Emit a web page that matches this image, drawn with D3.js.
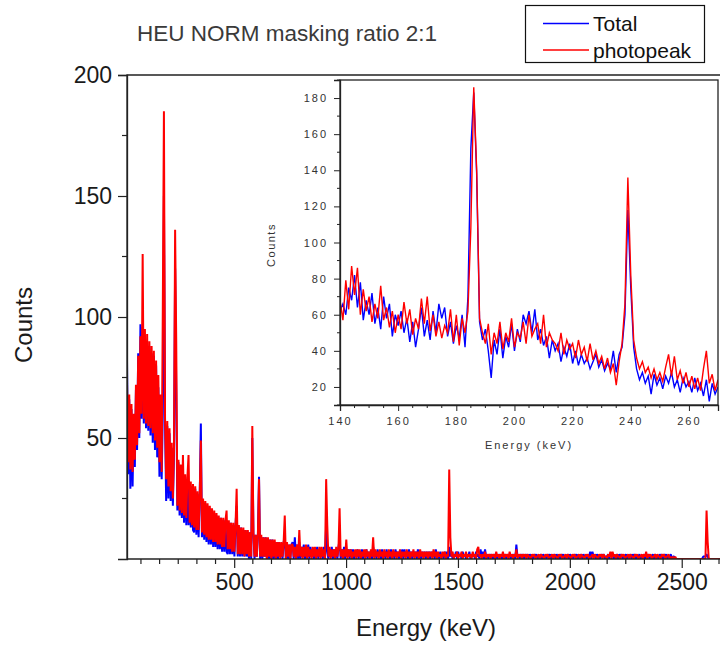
<!DOCTYPE html>
<html><head><meta charset="utf-8">
<script src="https://cdn.jsdelivr.net/npm/d3@7/dist/d3.min.js"></script>
<style>html,body{margin:0;padding:0;background:#fff;}svg{display:block;font-family:"Liberation Sans",Arial,sans-serif;}</style>
</head><body>
<svg id="chart" width="720" height="649"></svg>
<script>
// ---------- DATA ----------
const title = "HEU NORM masking ratio 2:1";
const seriesNames = ["Total", "photopeak"];
const mainXTicks = [500, 1000, 1500, 2000, 2500];
const mainYTicks = [50, 100, 150, 200];
const insetXTicks = [140, 160, 180, 200, 220, 240, 260];
const insetYTicks = [20, 40, 60, 80, 100, 120, 140, 160, 180];

// main spectrum: channels every 5 keV starting at 21 keV (rows of 10 = 50 keV)
const mainStart = 21, mainStep = 5;
const mainTotal = [
  82,35,66,29,62,30,58,38,70,45,   // 21
  85,50,97,58,96,56,92,54,90,53,   // 71
  88,51,85,48,84,45,80,42,71,34,   // 121
  66,33,60,150,56,24,55,25,52,24,  // 171
  46,22,43,120,70,20,40,18,37,17,  // 221
  36,15,34,14,33,14,31,13,30,12,   // 271
  11,29,10,27,9,26,56,9,24,8,      // 321
  23,7,22,6,21,6,20,5,19,5,        // 371
  18,4,17,4,17,3,16,3,16,3,        // 421
  2,15,2,15,2,14,1,14,22,1,        // 471
  13,1,13,1,12,1,12,1,11,0,        // 521
  11,0,50,10,0,10,1,10,34,0,       // 571
  9,0,9,1,9,0,8,0,8,0,             // 621
  8,0,7,0,7,0,7,1,6,0,             // 671
  7,9,0,6,0,6,0,6,                 // 721
  7,0,9,1,6,0,7,0,5,1,             // 761
  6,0,5,1,6,0,5,1,4,0,             // 811
  4,1,5,0,4,1,4,0,5,1,             // 861
  14,3,0,4,1,5,0,4,1,4,            // 911
  0,5,8,0,4,1,5,0,4,1,             // 961
  4,0,4,1,4,0,3,1,4,0,             // 1011
  3,1,4,0,3,1,4,0,3,1,             // 1061
  3,0,5,1,3,0,4,1,3,0,             // 1111
  4,1,3,0,4,1,3,0,4,1,             // 1161
  3,0,4,1,3,0,3,1,4,0,             // 1211
  4,1,3,0,4,1,3,0,3,1,             // 1261
  3,0,4,1,3,0,3,1,3,0,             // 1311
  3,1,3,0,3,1,3,0,4,1,             // 1361
  2,0,3,1,2,0,3,1,3,0,             // 1411
  5,1,3,0,2,1,3,0,3,1,             // 1461
  2,0,3,1,2,0,2,1,3,0,             // 1511
  2,1,2,0,3,1,2,0,4,1,             // 1561
  3,0,4,1,2,0,2,1,2,0,             // 1611
  2,1,2,0,2,1,2,0,2,1,             // 1661
  2,0,2,1,2,0,2,1,2,0,             // 1711
  6,1,2,0,2,1,2,0,2,1,             // 1761
  2,0,2,1,1,0,2,1,2,0,             // 1811
  1,1,2,0,2,1,1,0,2,1,             // 1861
  2,0,1,1,2,0,2,1,1,0,             // 1911
  2,1,2,0,1,1,2,0,2,1,             // 1961
  1,0,2,1,2,0,1,1,2,0,             // 2011
  2,1,1,0,2,1,3,0,3,1,             // 2061
  2,0,2,1,1,0,2,1,2,0,             // 2111
  1,1,2,0,2,1,2,0,1,1,             // 2161
  2,0,2,1,2,0,1,1,2,0,             // 2211
  1,1,2,0,2,1,2,0,1,1,             // 2261
  2,0,1,1,2,0,2,1,2,0,             // 2311
  1,1,2,0,2,1,1,0,2,1,             // 2361
  2,0,2,1,2,0,1,1,2,0,             // 2411
  1,1,0,0,0,0,0,0,0,0,             // 2461
  0,0,0,0,0,0,0,0,0,0,             // 2511
  0,0,0,0,0,0,0,1,1,1,             // 2561
  2,1,0,0,0,0,0,0,0,0,             // 2611
  0,0,0,0                          // 2661
];
const mainPhoto = [
  73,40,68,37,64,36,60,41,72,47,   // 21
  84,52,92,60,126,58,95,56,93,55,  // 71
  90,54,88,52,86,49,82,46,76,40,   // 121
  68,36,103,185,58,33,57,30,54,28, // 171
  48,25,45,136,90,22,41,20,39,19,  // 221
  43,18,35,17,34,43,15,32,14,31,   // 271
  13,30,12,28,12,27,49,11,25,10,   // 321
  24,9,23,8,22,8,21,7,20,7,        // 371
  19,6,18,6,17,5,17,5,16,20,       // 421
  4,16,4,15,3,15,3,14,29,2,        // 471
  14,2,13,2,13,1,12,2,12,1,        // 521
  11,1,55,11,1,10,1,10,33,1,       // 571
  10,1,9,1,9,0,9,1,8,0,            // 621
  8,1,8,0,7,1,7,0,7,1,             // 671
  7,18,0,7,1,6,0,6,                // 721
  6,1,5,0,6,1,12,1,5,0,            // 761
  5,1,6,0,5,1,4,0,5,1,             // 811
  5,0,4,1,5,0,5,1,4,0,             // 861
  33,14,1,5,0,4,1,4,0,5,           // 911
  1,4,21,1,4,0,4,1,8,0,            // 961
  4,1,4,0,3,1,4,0,4,1,             // 1011
  4,0,3,1,4,0,4,1,3,0,             // 1061
  4,1,9,0,4,1,3,0,4,1,             // 1111
  3,0,4,1,3,0,4,1,3,0,             // 1161
  4,1,3,0,3,1,4,0,3,1,             // 1211
  3,0,4,1,3,0,3,1,4,0,             // 1261
  3,1,3,0,4,1,3,0,3,1,             // 1311
  3,0,3,1,3,0,4,1,3,0,             // 1361
  3,1,2,0,3,1,3,0,2,1,             // 1411
  37,9,1,3,0,2,1,3,0,2,            // 1461
  1,3,0,2,1,3,0,2,1,2,             // 1511
  0,3,1,2,0,4,5,1,2,0,             // 1561
  2,1,3,0,2,1,2,0,2,1,             // 1611
  2,0,3,1,2,0,2,1,3,0,             // 1661
  2,1,2,0,3,1,2,0,2,1,             // 1711
  4,0,2,1,2,0,2,1,2,0,             // 1761
  2,1,1,0,2,1,2,0,1,1,             // 1811
  2,0,2,1,1,0,2,1,2,0,             // 1861
  1,1,2,0,2,1,1,0,2,1,             // 1911
  2,0,1,1,2,0,2,1,1,0,             // 1961
  2,1,2,0,1,1,2,0,2,1,             // 2011
  1,0,2,1,2,0,1,1,2,0,             // 2061
  2,1,1,0,2,1,2,0,2,1,             // 2111
  1,0,2,1,3,0,3,1,2,0,             // 2161
  2,1,1,0,2,1,2,0,1,1,             // 2211
  2,0,2,1,1,0,2,1,2,0,             // 2261
  1,1,2,0,2,1,3,0,2,1,             // 2311
  2,0,1,1,2,0,2,1,1,0,             // 2361
  2,1,2,0,1,1,2,0,1,0,             // 2411
  1,0,1,0,0,0,0,0,0,0,             // 2461
  0,0,0,0,0,0,0,0,0,0,             // 2511
  0,0,0,0,0,0,0,0,0,0,             // 2561
  20,7,0,0,0,0,0,0,0,0,            // 2611
  0,0,0,0                          // 2661
];

// inset: 140-270 keV, 1 keV channels
const insetStart = 140, insetStep = 1;
const insetTotal = [
  62,66,60,75,68,82,64,78,57,68,
  60,72,55,64,52,70,58,66,48,60,
  54,62,50,58,45,56,42,52,64,48,
  57,46,62,50,66,58,64,48,56,44,
  54,47,60,42,70,152,183,138,56,46,
  52,40,25,46,38,52,36,48,42,55,
  40,52,45,60,55,62,50,63,46,52,
  43,48,36,46,40,44,34,42,37,44,
  33,40,32,38,33,36,30,34,38,31,
  35,29,33,30,40,28,38,42,60,118,
  75,42,30,24,28,22,26,16,27,21,
  25,19,26,22,28,20,24,17,25,20,
  23,17,25,18,22,15,24,12,22,16,
  20
];
const insetPhoto = [
  68,57,79,63,87,71,86,60,74,62,
  70,56,66,58,76,57,64,53,62,50,
  60,52,67,55,63,49,58,52,69,55,
  70,51,60,48,56,47,54,50,63,45,
  60,43,58,50,62,108,186,140,58,50,
  44,55,38,50,44,56,41,50,45,58,
  42,50,47,56,44,60,48,52,55,44,
  60,42,50,46,44,40,50,38,46,41,
  44,36,46,38,42,34,44,35,40,33,
  37,30,36,28,33,21,34,44,66,136,
  82,46,36,30,34,28,31,25,30,24,
  28,23,31,38,26,37,24,29,22,28,
  20,26,19,25,18,30,40,22,27,18,
  24
];

// ---------- DRAW ----------
const svg = d3.select("#chart");
svg.append("rect").attr("width",720).attr("height",649).attr("fill","#fff");
const BLUE = "#0000ff", RED = "#ff0000";

const toPts = (arr, start, step) => arr.map((v,i) => [start + i*step, v]);

// main plot
const M = {l:127, t:75, r:722, b:559};
const x = d3.scaleLinear().domain([21, 2680]).range([M.l, M.r]);
const y = d3.scaleLinear().domain([0, 200]).range([M.b, M.t]);

svg.append("clipPath").attr("id","mclip").append("rect")
  .attr("x",M.l).attr("y",M.t).attr("width",M.r-M.l).attr("height",M.b-M.t);

const line = d3.line().x(d=>x(d[0])).y(d=>y(d[1]));
const g = svg.append("g").attr("clip-path","url(#mclip)");
g.append("path").datum(toPts(mainTotal, mainStart, mainStep)).attr("d",line).attr("fill","none")
  .attr("stroke",BLUE).attr("stroke-width",2).attr("stroke-linejoin","bevel");
g.append("path").datum(toPts(mainPhoto, mainStart, mainStep)).attr("d",line).attr("fill","none")
  .attr("stroke",RED).attr("stroke-width",2).attr("stroke-linejoin","bevel");

// frame
svg.append("path").attr("d",`M${M.l},${M.b}V${M.t}H${M.r+5}`).attr("fill","none").attr("stroke","#222").attr("stroke-width",1.3);

// axes
const xAxis = d3.axisBottom(x).tickValues(mainXTicks).tickFormat(d3.format("d")).tickSize(9).tickPadding(6);
const gx = svg.append("g").attr("transform",`translate(0,${M.b})`).call(xAxis);
const minorX = d3.range(500/6, 2680, 500/6).filter(v => v > 21 && mainXTicks.every(t => Math.abs(t - v) > 1));
gx.selectAll(".minor").data(minorX).enter().append("line").attr("class","minor")
  .attr("x1",d=>x(d)).attr("x2",d=>x(d)).attr("y1",0).attr("y2",5).attr("stroke","#222").attr("stroke-width",1.2);
const yAxis = d3.axisLeft(y).tickValues(mainYTicks).tickFormat(d3.format("d")).tickSize(9).tickPadding(6);
const gy = svg.append("g").attr("transform",`translate(${M.l},0)`).call(yAxis);
const minorY = [25, 75, 125, 175];
gy.selectAll(".minor").data(minorY).enter().append("line").attr("class","minor")
  .attr("x1",0).attr("x2",-5).attr("y1",d=>y(d)).attr("y2",d=>y(d)).attr("stroke","#222").attr("stroke-width",1.2);
[gx, gy].forEach(a => {
  a.select(".domain").attr("stroke","#222").attr("stroke-width",1.3);
  a.selectAll(".tick line").attr("stroke","#222").attr("stroke-width",1.2);
  a.selectAll(".tick text").attr("font-size",23).attr("fill","#1a1a1a").attr("font-family","Liberation Sans, Arial, sans-serif");
});
gx.select(".domain").attr("d",`M${M.l},0H${M.r+5}`);

svg.append("text").attr("x",426).attr("y",636).attr("text-anchor","middle")
  .attr("font-size",24).attr("fill","#1a1a1a").text("Energy (keV)");
svg.append("text").attr("transform","translate(32,325) rotate(-90)").attr("text-anchor","middle")
  .attr("font-size",24).attr("fill","#1a1a1a").text("Counts");

// title
svg.append("text").attr("x",137).attr("y",41).attr("font-size",22.5).attr("fill","#3a3a3a").text(title);

// legend
const lg = svg.append("g");
lg.append("rect").attr("x",525.5).attr("y",5.5).attr("width",179).attr("height",57).attr("fill","#fff").attr("stroke","#111").attr("stroke-width",1.2);
[[BLUE,23.5,31,seriesNames[0]],[RED,50,57.5,seriesNames[1]]].forEach(([c,ly,ty,t]) => {
  lg.append("line").attr("x1",543).attr("x2",589).attr("y1",ly).attr("y2",ly).attr("stroke",c).attr("stroke-width",1.3);
  lg.append("text").attr("x",593).attr("y",ty).attr("font-size",21).attr("fill","#111").text(t);
});

// ---------- INSET ----------
const I = {l:340, t:80, r:718, b:405};
const xi = d3.scaleLinear().domain([140, 270]).range([I.l, I.r]);
const yi = d3.scaleLinear().domain([10, 190]).range([I.b, I.t]);
svg.append("rect").attr("x",I.l).attr("y",I.t).attr("width",I.r-I.l).attr("height",I.b-I.t).attr("fill","#fff");
svg.append("clipPath").attr("id","iclip").append("rect")
  .attr("x",I.l).attr("y",I.t).attr("width",I.r-I.l).attr("height",I.b-I.t);
const linei = d3.line().x(d=>xi(d[0])).y(d=>yi(d[1]));
const gi = svg.append("g").attr("clip-path","url(#iclip)");
gi.append("path").datum(toPts(insetTotal, insetStart, insetStep)).attr("d",linei).attr("fill","none").attr("stroke",BLUE).attr("stroke-width",1.4);
gi.append("path").datum(toPts(insetPhoto, insetStart, insetStep)).attr("d",linei).attr("fill","none").attr("stroke",RED).attr("stroke-width",1.4);
svg.append("rect").attr("x",I.l).attr("y",I.t).attr("width",I.r-I.l).attr("height",I.b-I.t)
  .attr("fill","none").attr("stroke","#222").attr("stroke-width",1.3);

const gxi = svg.append("g").attr("transform",`translate(0,${I.b})`)
  .call(d3.axisBottom(xi).tickValues(insetXTicks).tickSize(6).tickPadding(6));
gxi.selectAll(".minor").data(d3.range(145, 270, 5).filter(v => v % 20 !== 0)).enter().append("line")
  .attr("x1",d=>xi(d)).attr("x2",d=>xi(d)).attr("y1",0).attr("y2",3).attr("stroke","#222");
const gyi = svg.append("g").attr("transform",`translate(${I.l},0)`)
  .call(d3.axisLeft(yi).tickValues(insetYTicks).tickSize(6).tickPadding(6));
gyi.selectAll(".minor").data([10,30,50,70,90,110,130,150,170,190]).enter().append("line")
  .attr("x1",0).attr("x2",-3).attr("y1",d=>yi(d)).attr("y2",d=>yi(d)).attr("stroke","#222");
[gxi, gyi].forEach(a => {
  a.select(".domain").attr("stroke","#222").attr("stroke-width",1.3);
  a.selectAll(".tick line").attr("stroke","#222");
  a.selectAll(".tick text").attr("font-size",11).attr("fill","#333").attr("letter-spacing","2px")
    .attr("font-family","Liberation Sans, Arial, sans-serif");
});
svg.append("text").attr("x",529).attr("y",449).attr("text-anchor","middle")
  .attr("font-size",11).attr("letter-spacing","2px").attr("fill","#333").text("Energy (keV)");
svg.append("text").attr("transform","translate(275,245) rotate(-90)").attr("text-anchor","middle")
  .attr("font-size",11).attr("letter-spacing","1.5px").attr("fill","#333").text("Counts");
</script>
</body></html>
